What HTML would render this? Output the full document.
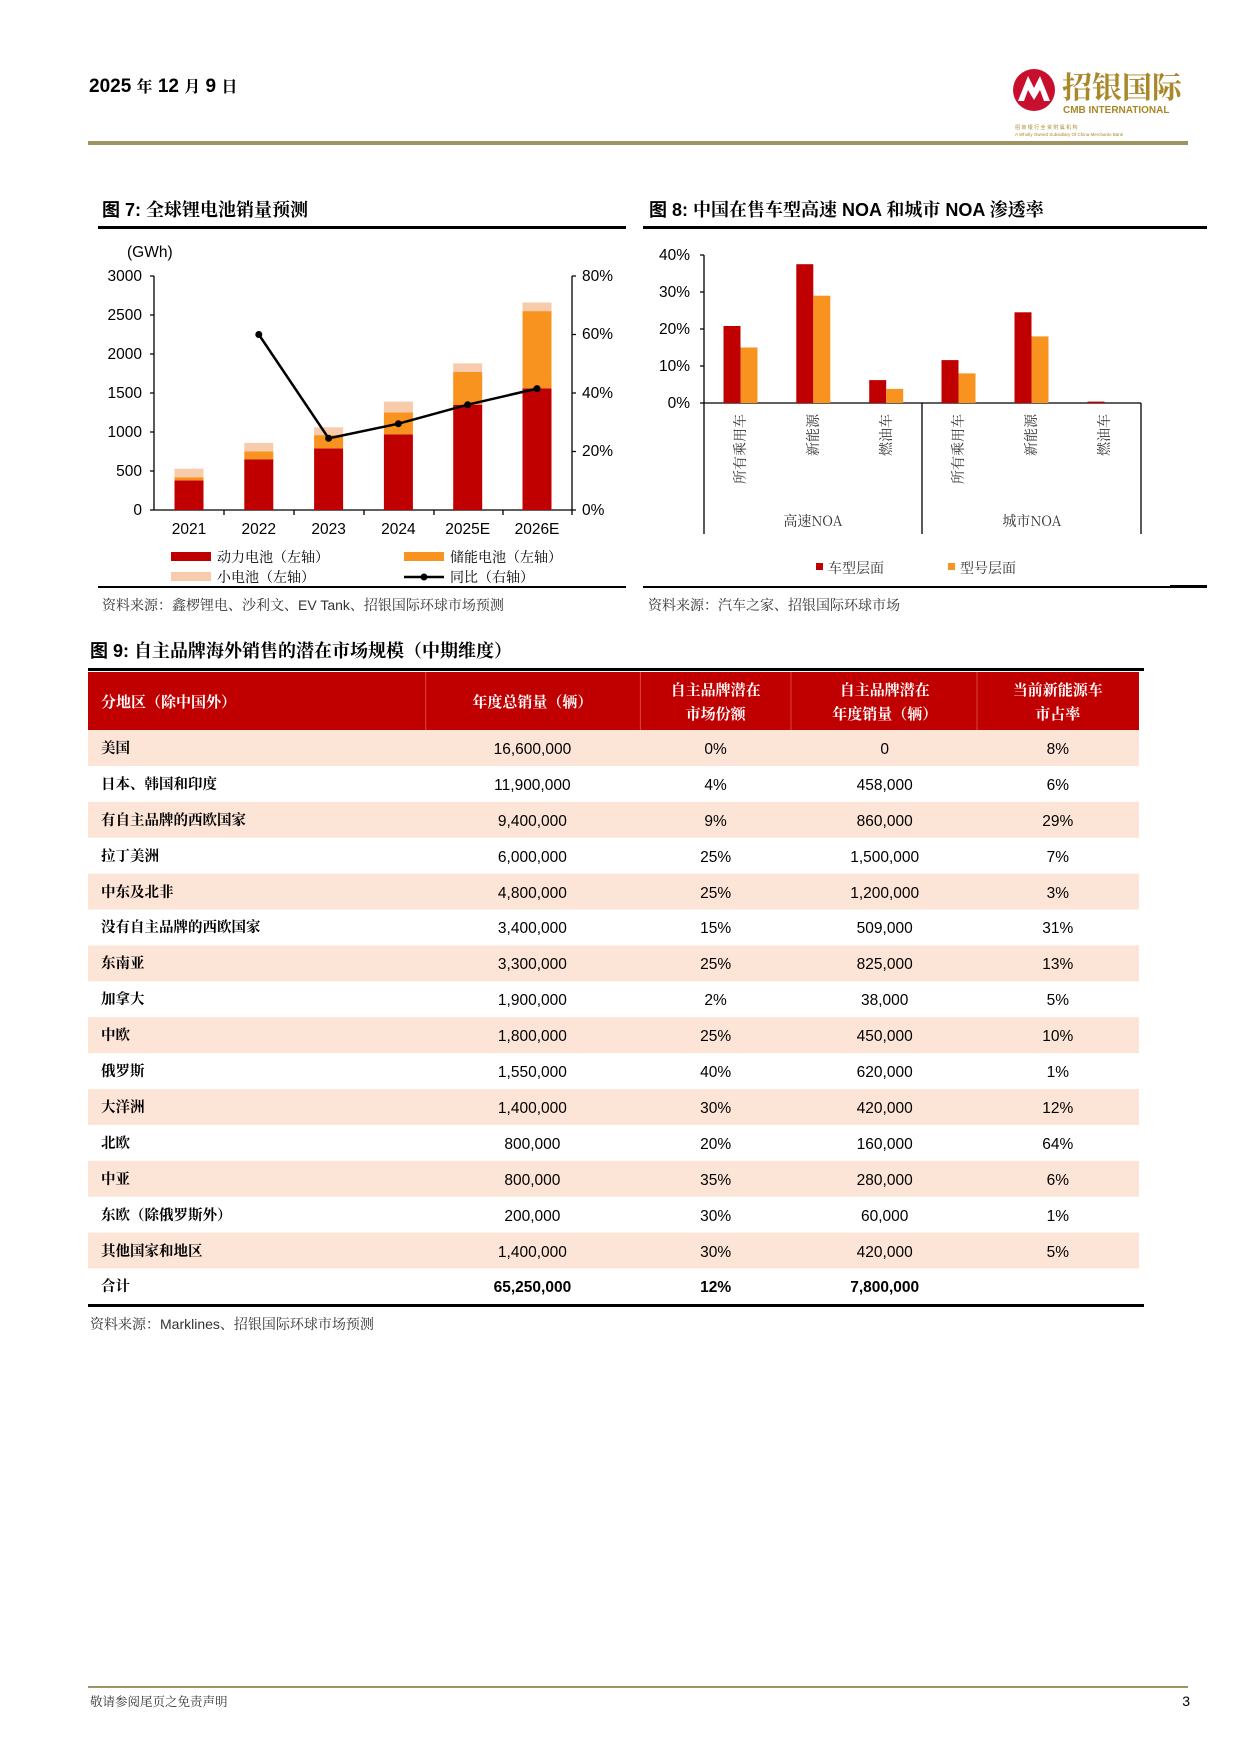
<!DOCTYPE html>
<html><head><meta charset="utf-8"><style>
html,body{margin:0;padding:0;background:#fff;}
svg{display:block;}
text{font-family:"Liberation Sans","Noto Sans CJK SC",sans-serif;}
.s{font-family:"Noto Serif CJK SC","Liberation Serif",serif;}
</style></head><body>
<svg width="1241" height="1754" viewBox="0 0 1241 1754" xmlns="http://www.w3.org/2000/svg">
<!-- header -->
<text x="89" y="92" font-size="19" font-weight="bold" fill="#000">2025 <tspan class="s" font-size="16">年</tspan> 12 <tspan class="s" font-size="16">月</tspan> 9 <tspan class="s" font-size="16">日</tspan></text>
<circle cx="1034" cy="90" r="21" fill="#c8102e"/>
<path d="M1018 101 L1028 76 L1034 88 L1040 76 L1050 101 L1044 101 L1040 90 L1034 100 L1028 90 L1024 101Z" fill="#fff"/>
<text x="1062" y="98" font-size="30" font-weight="bold" fill="#a8882a" class="s">招银国际</text>
<text x="1063" y="113" font-size="10" font-weight="bold" fill="#a8882a" font-family="Liberation Serif">CMB INTERNATIONAL</text>
<text x="1015" y="129" font-size="5" fill="#a8882a">招 商 银 行 全 资 附 属 机 构</text>
<text x="1015" y="136" font-size="4.5" fill="#a8882a">A Wholly Owned Subsidiary Of China Merchants Bank</text>
<rect x="88" y="141" width="1100" height="4" fill="#9c9461"/>

<!-- Fig 7 title -->
<text x="102" y="216" font-size="18" font-weight="bold">图 7: <tspan class="s">全球锂电池销量预测</tspan></text>
<rect x="98" y="226" width="528" height="3" fill="#000"/>
<!-- Fig 8 title -->
<text x="649" y="216" font-size="18" font-weight="bold">图 8: <tspan class="s">中国在售车型高速</tspan> NOA <tspan class="s">和城市</tspan> NOA <tspan class="s">渗透率</tspan></text>
<rect x="643" y="226" width="564" height="3" fill="#000"/>

<!-- Chart 7 -->
<g font-size="15.5" fill="#000">
<text x="127" y="257">(GWh)</text>
<g text-anchor="end">
<text x="142" y="281">3000</text><text x="142" y="320">2500</text><text x="142" y="359">2000</text>
<text x="142" y="398">1500</text><text x="142" y="437">1000</text><text x="142" y="476">500</text><text x="142" y="515">0</text>
</g>
<g>
<text x="582" y="281">80%</text><text x="582" y="339">60%</text><text x="582" y="398">40%</text>
<text x="582" y="456">20%</text><text x="582" y="515">0%</text>
</g>
</g>
<g stroke="#000" stroke-width="1.3" fill="none">
<line x1="154" y1="276" x2="154" y2="510"/>
<line x1="572" y1="276" x2="572" y2="510"/>
<line x1="154" y1="510" x2="572" y2="510"/>
<path d="M150 276h4M150 315h4M150 354h4M150 393h4M150 432h4M150 471h4M150 510h4"/>
<path d="M572 276h4M572 334.5h4M572 393h4M572 451.5h4M572 510h4"/>
<path d="M224 510v5M294 510v5M364 510v5M434 510v5M503 510v5M572 510v5"/>
</g>
<g>
<rect x="174.5" y="480.4" width="29" height="29.6" fill="#c00000"/><rect x="174.5" y="477.2" width="29" height="3.2" fill="#f7931e"/><rect x="174.5" y="468.7" width="29" height="8.5" fill="#f8cbad"/>
<rect x="244.3" y="459.3" width="29" height="50.7" fill="#c00000"/><rect x="244.3" y="451.5" width="29" height="7.8" fill="#f7931e"/><rect x="244.3" y="442.9" width="29" height="8.6" fill="#f8cbad"/>
<rect x="314.1" y="448.4" width="29" height="61.6" fill="#c00000"/><rect x="314.1" y="435.1" width="29" height="13.3" fill="#f7931e"/><rect x="314.1" y="427.3" width="29" height="7.8" fill="#f8cbad"/>
<rect x="383.9" y="434.3" width="29" height="75.7" fill="#c00000"/><rect x="383.9" y="412.5" width="29" height="21.8" fill="#f7931e"/><rect x="383.9" y="401.6" width="29" height="10.9" fill="#f8cbad"/>
<rect x="453.2" y="404.7" width="29" height="105.3" fill="#c00000"/><rect x="453.2" y="371.9" width="29" height="32.8" fill="#f7931e"/><rect x="453.2" y="363.4" width="29" height="8.5" fill="#f8cbad"/>
<rect x="522.5" y="388.3" width="29" height="121.7" fill="#c00000"/><rect x="522.5" y="311.1" width="29" height="77.2" fill="#f7931e"/><rect x="522.5" y="302.5" width="29" height="8.6" fill="#f8cbad"/>
</g>
<polyline points="258.8,334.5 328.6,438.3 398.4,423.7 467.7,404.7 537,388.6" fill="none" stroke="#000" stroke-width="2.5"/>
<g fill="#000"><circle cx="258.8" cy="334.5" r="3.5"/><circle cx="328.6" cy="438.3" r="3.5"/><circle cx="398.4" cy="423.7" r="3.5"/><circle cx="467.7" cy="404.7" r="3.5"/><circle cx="537" cy="388.6" r="3.5"/></g>
<g font-size="15.5" text-anchor="middle">
<text x="189" y="534">2021</text><text x="258.8" y="534">2022</text><text x="328.6" y="534">2023</text>
<text x="398.4" y="534">2024</text><text x="467.7" y="534">2025E</text><text x="537" y="534">2026E</text>
</g>
<g font-size="14" class="s">
<rect x="171" y="552" width="40" height="9" fill="#c00000"/><text x="217" y="562" class="s">动力电池（左轴）</text>
<rect x="404" y="552" width="40" height="9" fill="#f7931e"/><text x="450" y="562" class="s">储能电池（左轴）</text>
<rect x="171" y="572" width="40" height="9" fill="#f8cbad"/><text x="217" y="582" class="s">小电池（左轴）</text>
<line x1="404" y1="577" x2="444" y2="577" stroke="#000" stroke-width="2.5"/><circle cx="424" cy="577" r="3.5"/><text x="450" y="582" class="s">同比（右轴）</text>
</g>
<rect x="98" y="586" width="528" height="2" fill="#000"/>
<text x="102" y="610" font-size="14" fill="#333"><tspan class="s">资料来源：鑫椤锂电、沙利文、</tspan>EV Tank<tspan class="s">、招银国际环球市场预测</tspan></text>

<!-- Chart 8 -->
<g font-size="15.5" text-anchor="end">
<text x="690" y="260">40%</text><text x="690" y="297">30%</text><text x="690" y="334">20%</text><text x="690" y="371">10%</text><text x="690" y="408">0%</text>
</g>
<g stroke="#000" stroke-width="1.3" fill="none">
<line x1="704" y1="255" x2="704" y2="534"/>
<line x1="704" y1="403" x2="1141" y2="403"/>
<line x1="922" y1="403" x2="922" y2="534"/>
<line x1="1141" y1="403" x2="1141" y2="534"/>
<path d="M700 255h4M700 292h4M700 329h4M700 366h4M700 403h4"/>
</g>
<g>
<rect x="723.5" y="326" width="17" height="77" fill="#c00000"/><rect x="740.5" y="347.5" width="17" height="55.5" fill="#f7931e"/>
<rect x="796.3" y="264.2" width="17" height="138.8" fill="#c00000"/><rect x="813.3" y="295.7" width="17" height="107.3" fill="#f7931e"/>
<rect x="869.2" y="380.1" width="17" height="22.9" fill="#c00000"/><rect x="886.2" y="388.9" width="17" height="14.1" fill="#f7931e"/>
<rect x="941.5" y="360.1" width="17" height="42.9" fill="#c00000"/><rect x="958.5" y="373.4" width="17" height="29.6" fill="#f7931e"/>
<rect x="1014.5" y="312.3" width="17" height="90.7" fill="#c00000"/><rect x="1031.5" y="336.4" width="17" height="66.6" fill="#f7931e"/>
<rect x="1087.5" y="401.6" width="17" height="1.4" fill="#c00000"/>
</g>
<g font-size="14" class="s" fill="#333" text-anchor="end">
<text transform="translate(745,414) rotate(-90)" class="s">所有乘用车</text>
<text transform="translate(818,414) rotate(-90)" class="s">新能源</text>
<text transform="translate(891,414) rotate(-90)" class="s">燃油车</text>
<text transform="translate(963,414) rotate(-90)" class="s">所有乘用车</text>
<text transform="translate(1036,414) rotate(-90)" class="s">新能源</text>
<text transform="translate(1109,414) rotate(-90)" class="s">燃油车</text>
</g>
<g font-size="14" class="s" fill="#333" text-anchor="middle">
<text x="813" y="526" class="s">高速NOA</text><text x="1032" y="526" class="s">城市NOA</text>
</g>
<rect x="816" y="563" width="7" height="7" fill="#c00000"/><text x="828" y="573" font-size="14" class="s" fill="#333">车型层面</text>
<rect x="948" y="563" width="7" height="7" fill="#f7931e"/><text x="960" y="573" font-size="14" class="s" fill="#333">型号层面</text>
<rect x="643" y="586" width="564" height="2" fill="#000"/>
<rect x="1170" y="585" width="37" height="3" fill="#000"/>
<text x="648" y="610" font-size="14" class="s" fill="#333">资料来源：汽车之家、招银国际环球市场</text>

<!-- Fig 9 -->
<text x="90" y="657" font-size="18" font-weight="bold">图 9: <tspan class="s">自主品牌海外销售的潜在市场规模（中期维度）</tspan></text>
<rect x="88" y="668" width="1056" height="3" fill="#000"/>
<rect x="88" y="672" width="1051" height="58" fill="#c00000"/>
<g stroke="#d44" stroke-width="1"><line x1="425.7" y1="672" x2="425.7" y2="730"/><line x1="640.4" y1="672" x2="640.4" y2="730"/><line x1="791" y1="672" x2="791" y2="730"/><line x1="977" y1="672" x2="977" y2="730"/></g>
<g fill="#fff" font-size="15" class="s" font-weight="bold">
<text x="101" y="707" class="s">分地区（除中国外）</text>
<text x="532.4" y="707" text-anchor="middle" class="s">年度总销量（辆）</text>
<text x="715.6" y="695" text-anchor="middle" class="s">自主品牌潜在</text><text x="715.6" y="719" text-anchor="middle" class="s">市场份额</text>
<text x="884.7" y="695" text-anchor="middle" class="s">自主品牌潜在</text><text x="884.7" y="719" text-anchor="middle" class="s">年度销量（辆）</text>
<text x="1057.8" y="695" text-anchor="middle" class="s">当前新能源车</text><text x="1057.8" y="719" text-anchor="middle" class="s">市占率</text>
</g>
<g fill="#fce4d6">
<rect x="88" y="730" width="1051" height="35.9"/><rect x="88" y="801.8" width="1051" height="35.9"/><rect x="88" y="873.6" width="1051" height="35.9"/>
<rect x="88" y="945.4" width="1051" height="35.9"/><rect x="88" y="1017.2" width="1051" height="35.9"/><rect x="88" y="1089" width="1051" height="35.9"/>
<rect x="88" y="1160.8" width="1051" height="35.9"/><rect x="88" y="1232.6" width="1051" height="35.9"/>
</g>
<g font-size="15.5" fill="#000">
<g class="s" font-size="14.5" font-weight="bold">
<text x="101" y="753" class="s">美国</text><text x="101" y="789" class="s">日本、韩国和印度</text><text x="101" y="825" class="s">有自主品牌的西欧国家</text>
<text x="101" y="861" class="s">拉丁美洲</text><text x="101" y="897" class="s">中东及北非</text><text x="101" y="932" class="s">没有自主品牌的西欧国家</text>
<text x="101" y="968" class="s">东南亚</text><text x="101" y="1004" class="s">加拿大</text><text x="101" y="1040" class="s">中欧</text>
<text x="101" y="1076" class="s">俄罗斯</text><text x="101" y="1112" class="s">大洋洲</text><text x="101" y="1148" class="s">北欧</text>
<text x="101" y="1184" class="s">中亚</text><text x="101" y="1220" class="s">东欧（除俄罗斯外）</text><text x="101" y="1256" class="s">其他国家和地区</text>
<text x="101" y="1291" class="s">合计</text>
</g>
<g text-anchor="middle">
<text x="532.4" y="754">16,600,000</text><text x="715.6" y="754">0%</text><text x="884.7" y="754">0</text><text x="1057.8" y="754">8%</text>
<text x="532.4" y="790">11,900,000</text><text x="715.6" y="790">4%</text><text x="884.7" y="790">458,000</text><text x="1057.8" y="790">6%</text>
<text x="532.4" y="826">9,400,000</text><text x="715.6" y="826">9%</text><text x="884.7" y="826">860,000</text><text x="1057.8" y="826">29%</text>
<text x="532.4" y="862">6,000,000</text><text x="715.6" y="862">25%</text><text x="884.7" y="862">1,500,000</text><text x="1057.8" y="862">7%</text>
<text x="532.4" y="898">4,800,000</text><text x="715.6" y="898">25%</text><text x="884.7" y="898">1,200,000</text><text x="1057.8" y="898">3%</text>
<text x="532.4" y="933">3,400,000</text><text x="715.6" y="933">15%</text><text x="884.7" y="933">509,000</text><text x="1057.8" y="933">31%</text>
<text x="532.4" y="969">3,300,000</text><text x="715.6" y="969">25%</text><text x="884.7" y="969">825,000</text><text x="1057.8" y="969">13%</text>
<text x="532.4" y="1005">1,900,000</text><text x="715.6" y="1005">2%</text><text x="884.7" y="1005">38,000</text><text x="1057.8" y="1005">5%</text>
<text x="532.4" y="1041">1,800,000</text><text x="715.6" y="1041">25%</text><text x="884.7" y="1041">450,000</text><text x="1057.8" y="1041">10%</text>
<text x="532.4" y="1077">1,550,000</text><text x="715.6" y="1077">40%</text><text x="884.7" y="1077">620,000</text><text x="1057.8" y="1077">1%</text>
<text x="532.4" y="1113">1,400,000</text><text x="715.6" y="1113">30%</text><text x="884.7" y="1113">420,000</text><text x="1057.8" y="1113">12%</text>
<text x="532.4" y="1149">800,000</text><text x="715.6" y="1149">20%</text><text x="884.7" y="1149">160,000</text><text x="1057.8" y="1149">64%</text>
<text x="532.4" y="1185">800,000</text><text x="715.6" y="1185">35%</text><text x="884.7" y="1185">280,000</text><text x="1057.8" y="1185">6%</text>
<text x="532.4" y="1221">200,000</text><text x="715.6" y="1221">30%</text><text x="884.7" y="1221">60,000</text><text x="1057.8" y="1221">1%</text>
<text x="532.4" y="1257">1,400,000</text><text x="715.6" y="1257">30%</text><text x="884.7" y="1257">420,000</text><text x="1057.8" y="1257">5%</text>
<g font-weight="bold"><text x="532.4" y="1292">65,250,000</text><text x="715.6" y="1292">12%</text><text x="884.7" y="1292">7,800,000</text></g>
</g>
</g>
<rect x="88" y="1304" width="1056" height="3" fill="#000"/>
<text x="90" y="1329" font-size="14" fill="#333"><tspan class="s">资料来源：</tspan>Marklines<tspan class="s">、招银国际环球市场预测</tspan></text>

<!-- footer -->
<rect x="88" y="1686" width="1100" height="2" fill="#9c9461"/>
<text x="90" y="1706" font-size="12.5" class="s" fill="#333">敬请参阅尾页之免责声明</text>
<text x="1190" y="1706" font-size="14" text-anchor="end">3</text>
</svg>
</body></html>
